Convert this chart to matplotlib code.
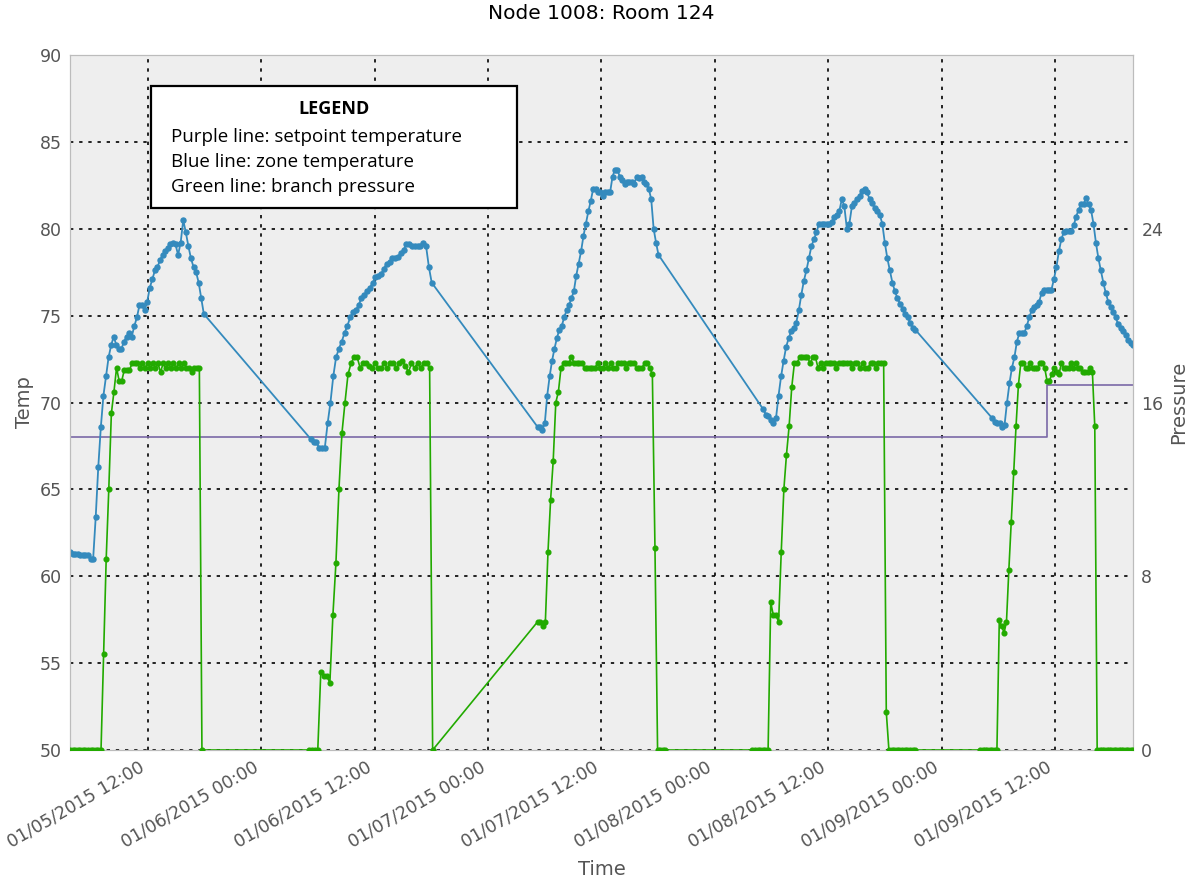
import numpy as np
import pandas as pd
import matplotlib
matplotlib.use("Agg")
import matplotlib.pyplot as plt
import matplotlib.dates as mdates
from matplotlib.patches import Rectangle

# zone temperature (blue), one block of samples per day
zone_span1 = ("2015-01-05 03:45", "2015-01-05 17:55")
zone_temp1 = [61.4, 61.3, 61.3, 61.3, 61.2, 61.2, 61.2, 61.2, 61.0, 61.0, 63.4, 66.3, 68.6,
              70.4, 71.5, 72.6, 73.3, 73.8, 73.3, 73.1, 73.1, 73.5, 73.8, 74.0, 73.8, 74.4,
              74.9, 75.6, 75.6, 75.3, 75.8, 76.6, 77.1, 77.6, 77.8, 78.2, 78.5, 78.7, 78.9,
              79.1, 79.2, 79.1, 78.5, 79.2, 80.5, 79.8, 79.0, 78.3, 77.8, 77.5, 76.9, 76.0, 75.1]
zone_span2 = ("2015-01-06 05:14", "2015-01-06 18:02")
zone_temp2 = [67.9, 67.7, 67.7, 67.4, 67.4, 67.4, 68.8, 70.0, 71.5, 72.6, 73.1, 73.5, 74.0,
              74.4, 74.9, 75.2, 75.3, 75.6, 76.0, 76.2, 76.4, 76.6, 76.9, 77.2, 77.3, 77.4,
              77.7, 78.0, 78.1, 78.3, 78.3, 78.4, 78.6, 78.8, 79.1, 79.1, 79.0, 79.0, 79.0,
              79.0, 79.2, 79.0, 77.8, 76.9]
zone_span3 = ("2015-01-07 05:14", "2015-01-07 18:02")
zone_temp3 = [68.6, 68.6, 68.4, 68.8, 70.4, 71.5, 72.4, 73.1, 73.7, 74.2, 74.4, 74.9, 75.3,
              75.6, 76.0, 76.4, 77.3, 78.0, 78.7, 79.6, 80.3, 81.0, 81.6, 82.3, 82.3, 82.1,
              82.1, 81.9, 82.1, 82.1, 82.1, 83.0, 83.4, 83.4, 83.0, 82.8, 82.6, 82.7, 82.7,
              82.7, 82.6, 83.0, 82.9, 83.0, 82.7, 82.6, 82.3, 81.7, 80.0, 79.2, 78.5]
zone_span4 = ("2015-01-08 05:08", "2015-01-08 21:12")
zone_temp4 = [69.6, 69.3, 69.2, 69.0, 68.8, 69.1, 70.4, 71.5, 72.4, 73.2, 73.7, 74.1, 74.3,
              74.6, 75.3, 76.2, 77.0, 77.6, 78.3, 79.0, 79.4, 79.8, 80.3, 80.3, 80.3, 80.3,
              80.3, 80.4, 80.7, 80.8, 81.0, 81.7, 81.3, 80.0, 80.3, 81.3, 81.5, 81.7, 81.9,
              82.2, 82.3, 82.1, 81.7, 81.5, 81.2, 81.0, 80.8, 80.3, 79.2, 78.3, 77.6, 76.9,
              76.4, 76.0, 75.7, 75.4, 75.1, 74.9, 74.6, 74.3, 74.2]
zone_span5 = ("2015-01-09 05:21", "2015-01-09 20:15")
zone_temp5 = [69.1, 68.9, 68.8, 68.8, 68.6, 68.7, 70.0, 71.1, 72.0, 72.6, 73.5, 74.0, 74.0,
              74.0, 74.4, 74.9, 75.3, 75.5, 75.6, 75.8, 76.3, 76.5, 76.5, 76.5, 76.5, 77.1,
              77.8, 78.7, 79.4, 79.8, 79.9, 79.9, 79.9, 80.2, 80.7, 81.1, 81.4, 81.4, 81.8,
              81.4, 81.1, 80.3, 79.2, 78.3, 77.6, 76.9, 76.3, 75.8, 75.5, 75.2, 74.9, 74.5,
              74.3, 74.1, 73.9, 73.6, 73.4, 73.3]

# branch pressure (green)
press_span1 = ("2015-01-05 03:45", "2015-01-05 17:43")
press_val1 = [0, 0, 0, 0, 0, 0, 0, 0, 0, 0, 0, 0, 0,
              4.4, 8.8, 12.0, 15.5, 16.5, 17.6, 17.0, 17.0, 17.5, 17.5, 17.5, 17.8, 17.8,
              17.8, 17.6, 17.8, 17.6, 17.8, 17.6, 17.8, 17.6, 17.8, 17.4, 17.8, 17.6, 17.8,
              17.6, 17.8, 17.6, 17.8, 17.6, 17.8, 17.6, 17.6, 17.4, 17.6, 17.6, 17.6, 0]
press_span2 = ("2015-01-06 05:01", "2015-01-06 18:08")
press_val2 = [0, 0, 0, 0, 3.6, 3.4, 3.4, 3.1, 6.2, 8.6, 12.0, 14.6, 16.0, 17.3, 17.8, 18.1,
              18.1, 17.6, 17.8, 17.8, 17.7, 17.6, 17.8, 17.6, 17.6, 17.8, 17.6, 17.8, 17.8,
              17.6, 17.8, 17.9, 17.7, 17.4, 17.8, 17.6, 17.8, 17.6, 17.8, 17.8, 17.6, 0]
press_span3 = ("2015-01-07 05:14", "2015-01-07 18:46")
press_val3 = [5.9, 5.9, 5.7, 5.9, 9.1, 11.5, 13.3, 16.0, 16.5, 17.6, 17.8, 17.8, 17.8, 18.1,
              17.8, 17.8, 17.8, 17.8, 17.6, 17.6, 17.6, 17.6, 17.6, 17.8, 17.6, 17.6, 17.8,
              17.6, 17.8, 17.6, 17.6, 17.8, 17.8, 17.8, 17.6, 17.8, 17.8, 17.8, 17.6, 17.6,
              17.6, 17.8, 17.8, 17.6, 17.3, 9.3, 0, 0, 0, 0]
press_span4 = ("2015-01-08 03:58", "2015-01-08 21:12")
press_val4 = [0, 0, 0, 0, 0, 0, 0,
              6.8, 6.2, 6.2, 5.9, 9.1, 12.0, 13.6, 14.9, 16.7, 17.8, 17.8, 18.1, 18.1, 18.1,
              18.1, 17.8, 18.1, 18.1, 17.6, 17.8, 17.6, 17.8, 17.8, 17.8, 17.8, 17.6, 17.8,
              17.8, 17.8, 17.8, 17.8, 17.6, 17.8, 17.8, 17.6, 17.8, 17.6, 17.6, 17.8, 17.8,
              17.6, 17.8, 17.8, 17.8, 1.75, 0,
              0, 0, 0, 0, 0, 0, 0, 0, 0, 0]
press_span5 = ("2015-01-09 04:05", "2015-01-09 20:15")
press_val5 = [0, 0, 0, 0, 0, 0, 0, 0,
              6.0, 5.7, 5.4, 5.9, 8.3, 10.5, 12.8, 14.9, 16.8, 17.8, 17.8, 17.6, 17.6, 17.8,
              17.6, 17.6, 17.6, 17.8, 17.8, 17.6, 17.0, 17.0, 17.3, 17.6, 17.4, 17.3, 17.8,
              17.6, 17.6, 17.6, 17.8, 17.6, 17.8, 17.6, 17.6, 17.4, 17.4, 17.4, 17.6, 17.4,
              14.9, 0,
              0, 0, 0, 0, 0, 0, 0, 0, 0, 0, 0, 0, 0, 0, 0]

# setpoint temperature (purple), stepped
setpoint_time = ["2015-01-05 03:45", "2015-01-09 11:10", "2015-01-09 20:15"]
setpoint_temp = [68, 71, 71]

legend_lines = ["Purple line: setpoint temperature",
                "Blue line: zone temperature",
                "Green line: branch pressure"]


def build(spans, values):
    times, vals = [], []
    for (t0, t1), v in zip(spans, values):
        times.append(pd.date_range(t0, t1, periods=len(v)))
        vals.extend(v)
    return np.concatenate(times), np.array(vals)


zone_t, zone_v = build([zone_span1, zone_span2, zone_span3, zone_span4, zone_span5],
                       [zone_temp1, zone_temp2, zone_temp3, zone_temp4, zone_temp5])
press_t, press_v = build([press_span1, press_span2, press_span3, press_span4, press_span5],
                         [press_val1, press_val2, press_val3, press_val4, press_val5])
sp_t = pd.to_datetime(setpoint_time)

fig = plt.figure(figsize=(11.96, 8.88), dpi=100)
ax = fig.add_axes([0.0585, 0.1554, 0.8888, 0.7826])
ax.set_facecolor("#eeeeee")
ax.set_axisbelow(True)

ax.plot(sp_t, setpoint_temp, color="#7a68a6", lw=1.2, drawstyle="steps-post", zorder=2)
ax.plot(zone_t, zone_v, "-o", color="#348abd", lw=1.3, ms=3.6, zorder=3)

ax.set_ylim(50, 90)
ax.set_yticks(range(50, 91, 5))
ax.set_xlim(pd.Timestamp("2015-01-05 03:45"), pd.Timestamp("2015-01-09 20:15"))
ax.xaxis.set_major_locator(mdates.HourLocator(byhour=[0, 12]))
ax.xaxis.set_major_formatter(mdates.DateFormatter("%m/%d/%Y %H:%M"))
ax.grid(True, color="black", linestyle=(0, (2, 3.5)), linewidth=1.2)

ax2 = ax.twinx()
ax2.plot(press_t, press_v, "-o", color="#22aa00", lw=1.2, ms=3.4, zorder=3)
ax2.set_ylim(0, 32)
ax2.set_yticks([0, 8, 16, 24])

for a in (ax, ax2):
    for s in a.spines.values():
        s.set_color("#bcbcbc")
    a.tick_params(length=0, labelsize=12.5, colors="#555555", pad=6)

plt.setp(ax.get_xticklabels(), rotation=30, ha="right", fontsize=12.5)

ax.set_ylabel("Temp", fontsize=14, color="#555555")
ax2.set_ylabel("Pressure", fontsize=14, color="#555555")
ax.set_xlabel("Time", fontsize=14, color="#555555", labelpad=6)
ax.set_title("Node 1008: Room 124", fontsize=14.5, pad=26)

# legend box
ax2.add_patch(Rectangle((0.0762, 0.780), 0.3443, 0.175, transform=ax2.transAxes,
                        facecolor="white", edgecolor="black", lw=1.6, zorder=5))
ax2.text(0.2484, 0.923, "LEGEND", transform=ax2.transAxes, ha="center", va="center",
         fontsize=13, fontweight="bold", family="Open Sans", zorder=6)
for i, line in enumerate(legend_lines):
    ax2.text(0.095, 0.882 - i * 0.036, line, transform=ax2.transAxes, ha="left",
             va="center", fontsize=13.5, family="Open Sans", zorder=6)

fig.savefig("out.png", dpi=100)
